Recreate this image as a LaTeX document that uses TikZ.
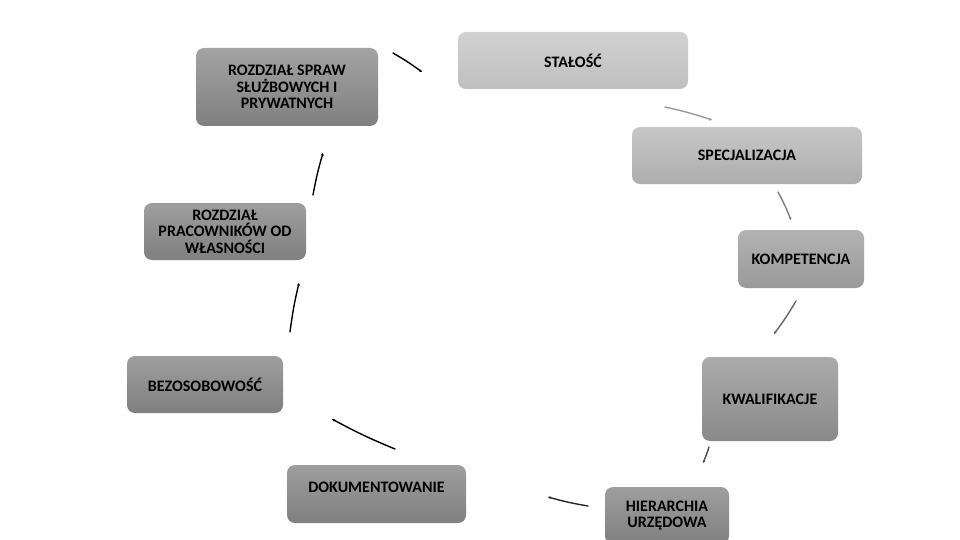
\documentclass[tikz,border=0pt]{standalone}
\usepackage{fontspec}
\setmainfont{Carlito}
\usetikzlibrary{positioning, arrows.meta}

\tikzset{
	stage/.style={rounded corners=8pt, inner sep=0pt, align=center,
		font=\fontsize{16}{16.5}\selectfont\bfseries},
	arc/.style={line width=1.4pt, line cap=round, bend left=3}
}

\begin{document}
\begin{tikzpicture}[x=1pt, y=-1pt, >={Triangle[length=2.5pt, width=2.6pt]}]
			\clip (0,0) rectangle (960,540);
			\fill[white] (0,0) rectangle (960,540);
			\node[stage, top color=black!36, bottom color=black!50, minimum width=182pt, minimum height=78pt] (sluzbowe) at (287,87) {ROZDZIAŁ SPRAW\\SŁUŻBOWYCH I\\PRYWATNYCH};
			\node[stage, top color=black!18, bottom color=black!25, minimum width=230pt, minimum height=57pt] (stalosc) at (573,60.5) {STAŁOŚĆ};
			\node[stage, top color=black!22, bottom color=black!32, minimum width=230pt, minimum height=57pt] (specjalizacja) at (747,155.5) {SPECJALIZACJA};
			\node[stage, top color=black!30, bottom color=black!40, minimum width=126pt, minimum height=58pt] (kompetencja) at (801,259) {KOMPETENCJA};
			\node[stage, top color=black!33, bottom color=black!46, minimum width=136pt, minimum height=84pt] (kwalifikacje) at (770,399) {KWALIFIKACJE};
			\node[stage, top color=black!38, bottom color=black!50, minimum width=124pt, minimum height=57pt] (hierarchia) at (667,515.5) {HIERARCHIA\\URZĘDOWA};
			\node[stage, top color=black!38, bottom color=black!50, minimum width=179pt, minimum height=58pt, text depth=14pt] (dokumentowanie) at (376.5,494) {DOKUMENTOWANIE};
			\node[stage, top color=black!38, bottom color=black!50, minimum width=156pt, minimum height=57pt] (bezosobowosc) at (205,384.5) {BEZOSOBOWOŚĆ};
			\node[stage, top color=black!38, bottom color=black!50, minimum width=162pt, minimum height=57pt] (wlasnosc) at (225,231.5) {ROZDZIAŁ\\PRACOWNIKÓW OD\\WŁASNOŚCI};
			% free ends of the cycle arcs
			\coordinate (a1) at (393,53);  \coordinate (b1) at (422,72);
			\coordinate (a2) at (665,107); \coordinate (b2) at (712,120);
			\coordinate (a3) at (778,192); \coordinate (b3) at (791,220);
			\coordinate (a4) at (796,301); \coordinate (b4) at (774,334);
			\coordinate (a5) at (709,447); \coordinate (b5) at (703,463);
			\coordinate (a6) at (588,506); \coordinate (b6) at (548,497);
			\coordinate (a7) at (395,449); \coordinate (b7) at (332,419);
			\coordinate (a8) at (290,332); \coordinate (b8) at (299,283);
			\coordinate (a9) at (313,195); \coordinate (b9) at (323,153);
			\path[arc, ->]
			(a1) edge [draw=black] (b1)
			(a2) edge [draw=black!40] (b2)
			(a3) edge [draw=black!50] (b3)
			(a4) edge [draw=black!60] (b4)
			(a5) edge [draw=black!70] (b5)
			(a6) edge [draw=black!85] (b6)
			(a7) edge [draw=black] (b7)
			(a8) edge [draw=black] (b8)
			(a9) edge [draw=black] (b9);
		\end{tikzpicture}
\end{document}
